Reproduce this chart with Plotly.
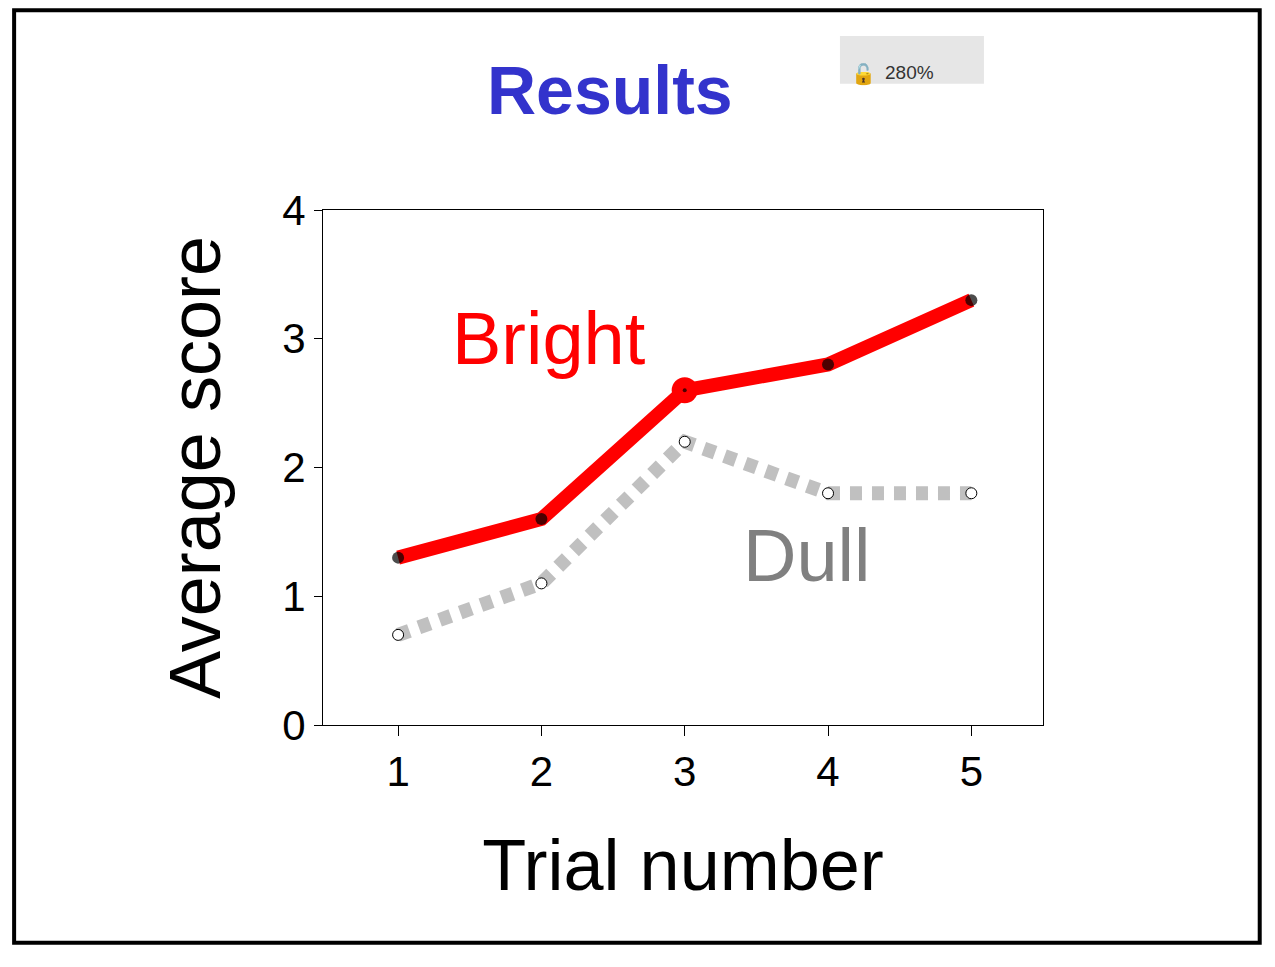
import plotly.graph_objects as go

trials = [1, 2, 3, 4, 5]
bright = [1.3, 1.6, 2.6, 2.8, 3.3]
dull = [0.7, 1.1, 2.2, 1.8, 1.8]

fig = go.Figure()

# dull series: fat grey dotted line with small open markers
fig.add_trace(go.Scatter(x=trials, y=dull, mode="lines",
                         line=dict(color="#c0c0c0", width=14, dash="12px,10px")))
fig.add_trace(go.Scatter(x=trials, y=dull, mode="markers",
                         marker=dict(size=11, color="white",
                                     line=dict(color="black", width=1))))

# bright series
fig.add_trace(go.Scatter(x=trials, y=bright, mode="lines",
                         line=dict(color="#ff0000", width=14)))
fig.add_trace(go.Scatter(x=[trials[2]], y=[bright[2]], mode="markers",
                         marker=dict(size=26, color="#ff0000", line=dict(width=0))))
sizes = [12, 12, 4, 12, 12]
fig.add_trace(go.Scatter(x=trials, y=bright, mode="markers",
                         marker=dict(size=sizes, color="black", line=dict(width=0))))

fig.add_annotation(x=2.05, y=3.0, text="Bright", showarrow=False,
                   font=dict(size=74, color="#ff0000", family="Liberation Sans"))
fig.add_annotation(x=3.85, y=1.32, text="Dull", showarrow=False,
                   font=dict(size=74, color="#808080", family="Liberation Sans"))

# outer frame
fig.add_shape(type="rect", xref="paper", yref="paper",
              x0=-0.429, x1=1.301, y0=-0.423, y1=1.388,
              line=dict(color="black", width=4))
# zoom badge
fig.add_shape(type="rect", xref="paper", yref="paper",
              x0=0.718, x1=0.918, y0=1.245, y1=1.338,
              line=dict(width=0), fillcolor="#e6e6e6")
fig.add_annotation(xref="paper", yref="paper", x=0.851, y=1.291,
                   text="280%", showarrow=False,
                   font=dict(size=19, color="#333333", family="Liberation Sans"))
fig.add_annotation(xref="paper", yref="paper", x=0.771, y=1.291,
                   text="🔓", showarrow=False, font=dict(size=20))

fig.update_layout(
    width=1275, height=967,
    margin=dict(l=315, r=240, t=202, b=250),
    paper_bgcolor="white", plot_bgcolor="white",
    showlegend=False,
    font=dict(family="Liberation Sans", color="black"),
    title=dict(text="<b>Results</b>", x=0.472, xanchor="center",
               y=0.915, yanchor="middle",
               font=dict(size=68, color="#3333cc", family="Liberation Sans")),
    xaxis=dict(range=[0.476, 5.5], tickvals=trials, ticks="outside",
               ticklen=10, tickcolor="black", tickfont=dict(size=42),
               showgrid=False, zeroline=False, showline=True,
               linecolor="black", linewidth=1, mirror=True,
               title=dict(text="Trial number", font=dict(size=72), standoff=45)),
    yaxis=dict(range=[0, 4], tickvals=[0, 1, 2, 3, 4], ticks="outside",
               ticklen=8, tickcolor="black", tickfont=dict(size=42),
               showgrid=False, zeroline=False, showline=True,
               linecolor="black", linewidth=1, mirror=True,
               title=dict(text="Average score", font=dict(size=72), standoff=38)),
)

fig.write_html("out.html")
